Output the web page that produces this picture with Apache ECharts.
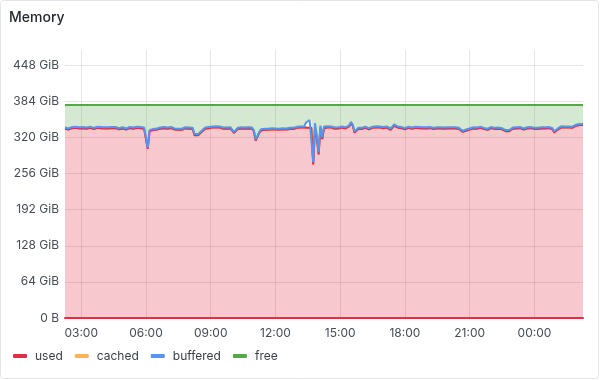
<!DOCTYPE html>
<html>
<head>
<meta charset="utf-8">
<script src="https://cdn.jsdelivr.net/npm/echarts@6/dist/echarts.min.js"></script>
<style>
html,body{margin:0;padding:0;background:#fff;}
#chart{width:600px;height:380px;}
</style>
</head>
<body>
<div id="chart"></div>
<script>
// Time: 5-minute samples starting 02:15, 24 hours
const START_MIN = 2 * 60 + 15;
const STEP_MIN = 5;

// used (GiB)
const used = [
335.5,332.5,334,336,336.5,336,337,336.5,336,337,
336.5,336,335.5,336.5,337,336,335,336.5,337,336,
336.5,337,336,335.5,336,337,336.5,336,336.5,335,
334.5,335.5,336,335,334,335.5,336.5,336,335.5,336.5,
337,336,336.5,336,335.5,333,300,331,333.5,333,
333.5,334,333.5,335.5,336,336.5,336,335.5,336.5,336.5,
336,334,333.5,333.5,334,333.5,335,336,336,335.5,
336,335,324,322.5,324,327,330,333,335.5,336,
336.5,336,337.5,339,338,336,337.5,336.5,335.5,336,
335.5,335,336,334.5,328,331.5,335,336,336,335.5,
335.5,336,336,335.5,335.5,331,314.5,318,328,332.5,
333,333.5,333,333.5,334,334.5,334.5,334,333.5,333.5,
334,334.5,334.5,334,334.5,335,334.5,335,336.5,337,
337.5,337.5,338,337.5,336.5,337,336.5,337,272,336,
320,290,337,317,336,336.5,338,337,337.5,337,
335.5,333.5,336,337,337.5,337,336,337.5,339.5,345.5,
341,328.5,332,335,334.5,335,336.5,337,335,334.5,
335.5,337,338,338,337.5,337.5,336.5,336.5,337,337.5,
336,333.5,337,341,342,337.5,335.5,336.5,336,334.5,
336.5,337,336,335.5,336,337,337.5,336.5,336,336,
335.5,336,336.5,336.5,336,335,334.5,336,337.5,336,
335.5,335.5,336,336,335.5,336,335.5,336,336,335,
334.5,330,328.5,332,334.5,334,335.5,336,335.5,335.5,
336.5,337,335.5,335,334,333.5,335,336.5,336,335,
335.5,335.5,335,334.5,333.5,331,330,331,334,335.5,
335,336,336,336.5,335,334,334.5,336,337,336.5,
335.5,335,334,335,335.5,336,336.5,336,336,336.5,
335.5,334.5,329,330.5,334,337.5,338,338,337.5,337,
337.5,338,337,338,340.5,342,342,342,342
];

// cached (GiB)
const cached = [
0,0,0,0,0,0,0,0,0,0, 0,0,0,0,0,0,0,0,0,0, 0,0,0,0,0,0,0,0,0,0,
0,0,0,0,0,0,0,0,0,0, 0,0,0,0,0,0,0,0,0,0, 0,0,0,0,0,0,0,0,0,0,
0,0,0,0,0,0,0,0,0,0, 0,0,0,0,0,0,0,0,0,0, 0,0,0,0,0,0,0,0,0,0,
0,0,0,0,0,0,0,0,0,0, 0,0,0,0,0,0,0,0,0,0, 0,0,0,0,0,0,0,0,0,0,
0,0,0,0,0,0,0,0,0,0, 0,0,0,0,0,0,0,0,0,0, 0,0,0,0,0,0,0,0,0,0,
0,0,0,0,0,0,0,0,0,0, 0,0,0,0,0,0,0,0,0,0, 0,0,0,0,0,0,0,0,0,0,
0,0,0,0,0,0,0,0,0,0, 0,0,0,0,0,0,0,0,0,0, 0,0,0,0,0,0,0,0,0,0,
0,0,0,0,0,0,0,0,0,0, 0,0,0,0,0,0,0,0,0,0, 0,0,0,0,0,0,0,0,0,0,
0,0,0,0,0,0,0,0,0,0, 0,0,0,0,0,0,0,0,0,0, 0,0,0,0,0,0,0,0,0,0,
0,0,0,0,0,0,0,0,0,0, 0,0,0,0,0,0,0,0,0
];

// buffered (GiB)
const buffered = [
2,2,2,2,2,2,2,2,2,2, 2,2,2,2,2,2,2,2,2,2, 2,2,2,2,2,2,2,2,2,2,
2,2,2,2,2,2,2,2,2,2, 2,2,2,2,2,2,2,2,2,2, 2,2,2,2,2,2,2,2,2,2,
2,2,2,2,2,2,2,2,2,2, 2,2,2,2,2,2,2,2,2,2, 2,2,2,2,2,2,2,2,2,2,
2,2,2,2,2,2,2,2,2,2, 2,2,2,2,2,2,2,2,2,2, 2,2,2,2,2,2,2,2,2,2,
2,2,2,2,2,2,2,2,2,2, 2,2,2,2,10,13,14.5,14.5,4,9.5, 4,3.5,4,3,3.5,2.5,2,2,2,2,
2,2,2,2,2,2,2,2,2,2, 2,2,2,2,2,2,2,2,2,2, 2,2,2,2,2,2,2,2,2,2,
2,2,2,2,2,2,2,2,2,2, 2,2,2,2,2,2,2,2,2,2, 2,2,2,2,2,2,2,2,2,2,
2,2,2,2,2,2,2,2,2,2, 2,2,2,2,2,2,2,2,2,2, 2,2,2,2,2,2,2,2,2,2,
2,2,2,2,2,2,2,2,2,2, 2,2,2,2,2,2,2,2,2,2, 2,2,2,2,2,2,2,2,2,2,
2,2,2,2,2,2,2,2,2,2, 2,2,2,2,2,2,2,2,2
];

// total memory (top of the green "free" band), GiB
const TOTAL_GIB = 377.5;

const yTicks = [0, 64, 128, 192, 256, 320, 384, 448];

// categories (time labels)
const times = used.map((_, i) => {
  const m = (START_MIN + i * STEP_MIN) % (24 * 60);
  const h = Math.floor(m / 60), mm = m % 60;
  return String(h).padStart(2, '0') + ':' + String(mm).padStart(2, '0');
});
// stacked remainder up to the total line
const free = used.map((u, i) => +(TOTAL_GIB - u - cached[i] - buffered[i]).toFixed(2));

const isMajor = (idx) => {
  const v = times[idx];
  if (!v || v.slice(3) !== '00') return false;
  return (+v.slice(0, 2)) % 3 === 0;
};

const FONT = 'Inter, "Noto Sans", sans-serif';
const chart = echarts.init(document.getElementById('chart'), null, {renderer: 'canvas'});
chart.setOption({
  animation: false,
  textStyle: {fontFamily: FONT},
  title: {
    text: 'Memory', left: 9, top: 11, padding: 0,
    textStyle: {fontSize: 14, fontWeight: 500, color: '#24292e', fontFamily: FONT}
  },
  graphic: [{
    type: 'rect', z: -10, silent: true,
    shape: {x: 0.5, y: 0.5, width: 598, height: 378, r: 3},
    style: {fill: 'none', stroke: '#e4e4e4', lineWidth: 1}
  }],
  legend: {
    left: 13, top: 350, padding: 0,
    icon: 'roundRect', itemWidth: 14, itemHeight: 4, itemGap: 12,
    textStyle: {fontSize: 12, color: '#3a3f45', fontFamily: FONT, padding: [0, 0, 0, 3]},
    data: ['used', 'cached', 'buffered', 'free']
  },
  grid: {left: 65, right: 17, top: 50, bottom: 62, containLabel: false},
  xAxis: {
    type: 'category', data: times, boundaryGap: false,
    axisLine: {show: true, lineStyle: {color: '#E02F44', width: 2}},
    axisTick: {show: false, interval: isMajor},
    axisLabel: {interval: isMajor, color: '#464c54', fontSize: 12, margin: 9, fontFamily: FONT},
    splitLine: {show: true, interval: isMajor, lineStyle: {color: 'rgba(36,41,46,0.12)', width: 1}}
  },
  yAxis: {
    type: 'value', min: 0, max: 475, interval: 64,
    axisLine: {show: false}, axisTick: {show: false},
    axisLabel: {
      color: '#464c54', fontSize: 12, margin: 6, fontFamily: FONT, showMaxLabel: false,
      formatter: v => yTicks.indexOf(v) < 0 ? '' : (v === 0 ? '0 B' : v + ' GiB')
    },
    splitLine: {show: true, showMaxLine: false, lineStyle: {color: 'rgba(36,41,46,0.12)', width: 1}}
  },
  series: [
    {name: 'used', type: 'line', stack: 'mem', data: used, showSymbol: false, color: '#E02F44', z: 3,
     lineStyle: {width: 2, color: '#E02F44'}, areaStyle: {color: 'rgba(224,47,68,0.26)', opacity: 1}},
    {name: 'cached', type: 'line', stack: 'mem', data: cached, showSymbol: false, color: '#FFB357', z: 2,
     lineStyle: {width: 2, color: '#FFB357'}},
    {name: 'buffered', type: 'line', stack: 'mem', data: buffered, showSymbol: false, color: '#5794F2', z: 4,
     lineStyle: {width: 2, color: '#5794F2'}},
    {name: 'free', type: 'line', stack: 'mem', data: free, showSymbol: false, color: '#56A64B', z: 4,
     lineStyle: {width: 2, color: '#56A64B'}, areaStyle: {color: 'rgba(86,166,75,0.25)', opacity: 1}}
  ]
});
</script>
</body>
</html>
